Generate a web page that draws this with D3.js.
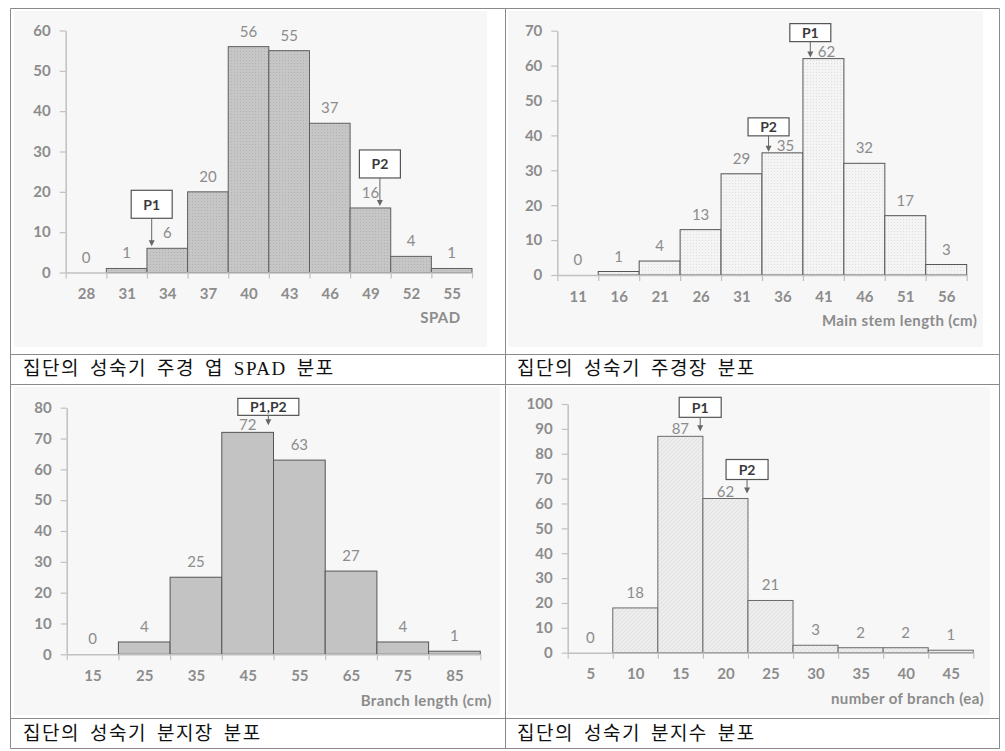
<!DOCTYPE html>
<html><head><meta charset="utf-8">
<script src="https://cdn.jsdelivr.net/npm/d3@7"></script>
<style>body{margin:0;background:#fff}svg{display:block}</style>
</head><body><svg id="c" width="1005" height="751"></svg>
<script>
// ---- data ----
const spadCats   = [28,31,34,37,40,43,46,49,52,55];
const spadCounts = [0,1,6,20,56,55,37,16,4,1];
const spadMarkLabels = ["P1","P2"];
const spadMarkX      = [32.85,49.7];
const spadMarkY      = [6,16];

const stemCats   = [11,16,21,26,31,36,41,46,51,56];
const stemCounts = [0,1,4,13,29,35,62,32,17,3];
const stemMarkLabels = ["P1","P2"];
const stemMarkX      = [39.4,34.3];
const stemMarkY      = [62,35];

const branchLenCats   = [15,25,35,45,55,65,75,85];
const branchLenCounts = [0,4,25,72,63,27,4,1];
const branchLenMarkLabels = ["P1,P2"];
const branchLenMarkX      = [49];
const branchLenMarkY      = [72];

const branchNumCats   = [5,10,15,20,25,30,35,40,45];
const branchNumCounts = [0,18,87,62,21,3,2,2,1];
const branchNumMarkLabels = ["P1","P2"];
const branchNumMarkX      = [17.2,22.4];
const branchNumMarkY      = [87,62];

const axisTitles = ["SPAD","Main stem length (cm)","Branch length (cm)","number of branch (ea)"];
const captions = ["집단의 성숙기 주경 엽 SPAD 분포","집단의 성숙기 주경장 분포","집단의 성숙기 분지장 분포","집단의 성숙기 분지수 분포"];

// ---- drawing ----
const svg = d3.select("#c");
const defs = svg.append("defs");
(function(){
  const p1 = defs.append("pattern").attr("id","pat1").attr("width",3).attr("height",3).attr("patternUnits","userSpaceOnUse");
  p1.append("rect").attr("width",3).attr("height",3).attr("fill","#c6c6c6");
  p1.append("rect").attr("width",1).attr("height",1).attr("fill","#b2b2b2");
  const p2 = defs.append("pattern").attr("id","pat2").attr("width",3).attr("height",3).attr("patternUnits","userSpaceOnUse");
  p2.append("rect").attr("width",3).attr("height",3).attr("fill","#f4f4f4");
  p2.append("rect").attr("width",1).attr("height",1).attr("fill","#dedede");
  const p4 = defs.append("pattern").attr("id","pat4").attr("width",4).attr("height",4).attr("patternUnits","userSpaceOnUse");
  p4.append("rect").attr("width",4).attr("height",4).attr("fill","#ededed");
  p4.append("path").attr("d","M0,4L4,0").attr("stroke","#e0e0e0").attr("stroke-width",1);
})();

const bgs = [[14,11,473,336],[508,11,475,336],[14,387,486,328],[508,387,482,328]];
svg.selectAll("rect.bg").data(bgs).join("rect").attr("class","bg")
  .attr("x",d=>d[0]).attr("y",d=>d[1]).attr("width",d=>d[2]).attr("height",d=>d[3]).attr("fill","#f7f7f7");

const gridColor="#8a8a8a";
const hLines=[8.5,354.5,384.5,718.5,748.5];
svg.selectAll("line.h").data(hLines).join("line").attr("class","h")
  .attr("x1",10.5).attr("x2",999.5).attr("y1",d=>d).attr("y2",d=>d).attr("stroke",gridColor);
const vLines=[10.5,505.5,999.5];
svg.selectAll("line.v").data(vLines).join("line").attr("class","v")
  .attr("y1",8.5).attr("y2",748.5).attr("x1",d=>d).attr("x2",d=>d).attr("stroke",gridColor);

const capPos=[[23,368],[517,368],[23,733],[517,733]];
const capText = svg.selectAll("text.cap").data(captions).join("text").attr("class","cap")
  .attr("x",(d,i)=>capPos[i][0]).attr("y",(d,i)=>capPos[i][1])
  .attr("dominant-baseline","central")
  .attr("font-family","'Liberation Serif','Noto Sans CJK KR'")
  .attr("font-size",19).attr("letter-spacing",1.5).attr("fill","#111");
capText.selectAll("tspan").data(d=>d.split(" ")).join("tspan")
  .attr("dx",(d,i)=>i?10:0).text(d=>d);

const tickColor="#8c8c8c", axisColor="#c0c0c0";
function drawPanel(c){
  const step = c.cats[1]-c.cats[0];
  const x = d3.scaleLinear().domain([c.cats[0]-step/2, c.cats[c.cats.length-1]+step/2]).range(c.xr);
  const y = d3.scaleLinear().domain([0,c.ymax]).range([c.y0,c.ytop]);
  const g = svg.append("g");
  const ya = g.append("g").attr("transform",`translate(${c.xr[0]},0)`)
    .call(d3.axisLeft(y).tickValues(d3.range(0,c.ymax+1,10)).tickSize(6).tickSizeOuter(0).tickPadding(9));
  ya.select(".domain").attr("stroke",axisColor).attr("stroke-width",1.5);
  ya.selectAll(".tick line").attr("stroke",axisColor).attr("stroke-width",1.2);
  ya.selectAll(".tick text").attr("fill",tickColor).attr("font-family","Lato").attr("font-weight","bold").attr("font-size",15);
  g.selectAll("rect.bar").data(c.counts).join("rect").attr("class","bar")
    .attr("x",(d,i)=>x(c.cats[i]-step/2)).attr("width",(d,i)=>x(c.cats[i]+step/2)-x(c.cats[i]-step/2))
    .attr("y",d=>y(d)).attr("height",d=>y(0)-y(d))
    .attr("fill",c.fill).attr("stroke",c.stroke).attr("stroke-width",1)
    .attr("display",d=>d>0?null:"none");
  const bounds = c.cats.map(v=>v-step/2).concat([c.cats[c.cats.length-1]+step/2]);
  const xa = g.append("g").attr("transform",`translate(0,${c.y0})`)
    .call(d3.axisBottom(x).tickValues(bounds).tickSize(6).tickSizeOuter(0).tickFormat(""));
  xa.select(".domain").attr("stroke",axisColor).attr("stroke-width",1.5);
  xa.selectAll(".tick line").attr("stroke",axisColor).attr("stroke-width",1.2);
  const xl = g.append("g").attr("transform",`translate(0,${c.y0})`)
    .call(d3.axisBottom(x).tickValues(c.cats).tickSize(0).tickPadding(16));
  xl.select(".domain").remove();
  xl.selectAll(".tick text").attr("fill",tickColor).attr("font-family","Lato").attr("font-weight","bold").attr("font-size",15);
  g.append("text").attr("x",c.title[0]).attr("y",c.title[1]).attr("text-anchor","end")
    .attr("dominant-baseline","central").attr("fill",tickColor).attr("font-family","Lato")
    .attr("font-weight","bold").attr("font-size",15).attr("letter-spacing",0.4).text(c.titleText);
  const marked = new Set(c.markY.map((v,i)=>Math.floor((c.markX[i]-(c.cats[0]-step/2))/step)));
  g.selectAll("text.val").data(c.counts).join("text").attr("class","val")
    .attr("x",(d,i)=>x(c.cats[i]) + (c.dodge && marked.has(i) ? c.dodgeDx : 0))
    .attr("y",(d,i)=>y(d) - (c.dodge && marked.has(i) ? c.dodgeOff : 16))
    .attr("text-anchor","middle").attr("dominant-baseline","central")
    .attr("fill",tickColor).attr("font-family","Lato").attr("font-size",15).text(d=>d);
  c.markLabels.forEach((lab,i)=>{
    const ax = x(c.markX[i]);
    const tip = y(c.markY[i]) - c.tipGap;
    const bb = tip - c.arrowLen;
    g.append("rect").attr("x",ax-c.boxW/2).attr("y",bb-c.boxH).attr("width",c.boxW).attr("height",c.boxH)
      .attr("fill","#fff").attr("stroke","#555").attr("stroke-width",1.2);
    g.append("text").attr("x",ax).attr("y",bb-c.boxH/2).attr("text-anchor","middle").attr("dominant-baseline","central")
      .attr("fill","#3a3a3a").attr("font-family","Lato").attr("font-weight","bold").attr("font-size",14).text(lab);
    g.append("line").attr("x1",ax).attr("x2",ax).attr("y1",bb).attr("y2",tip-2).attr("stroke","#666").attr("stroke-width",1);
    g.append("path").attr("d",`M${ax-3},${tip-6}L${ax+3},${tip-6}L${ax},${tip}Z`).attr("fill","#666");
  });
}

drawPanel({cats:spadCats,counts:spadCounts,markLabels:spadMarkLabels,markX:spadMarkX,markY:spadMarkY,
  xr:[65.7,472],y0:272.5,ytop:30.5,ymax:60,fill:"url(#pat1)",stroke:"#5f5f5f",
  title:[460.5,317],titleText:axisTitles[0],boxW:41,boxH:28,arrowLen:28,tipGap:2,dodge:false});
drawPanel({cats:stemCats,counts:stemCounts,markLabels:stemMarkLabels,markX:stemMarkX,markY:stemMarkY,
  xr:[557.3,966.7],y0:275,ytop:30.7,ymax:70,fill:"url(#pat2)",stroke:"#555",
  title:[977.3,320],titleText:axisTitles[1],boxW:41,boxH:18,arrowLen:16,tipGap:1,dodge:true,dodgeOff:8,dodgeDx:3});
drawPanel({cats:branchLenCats,counts:branchLenCounts,markLabels:branchLenMarkLabels,markX:branchLenMarkX,markY:branchLenMarkY,
  xr:[66.7,480.3],y0:654.3,ytop:407.7,ymax:80,fill:"#c3c3c3",stroke:"#555",
  title:[491.7,700],titleText:axisTitles[2],boxW:61,boxH:17,arrowLen:10,tipGap:7,dodge:true,dodgeOff:8,dodgeDx:0});
drawPanel({cats:branchNumCats,counts:branchNumCounts,markLabels:branchNumMarkLabels,markX:branchNumMarkX,markY:branchNumMarkY,
  xr:[567.7,973.3],y0:652.7,ytop:404,ymax:100,fill:"url(#pat4)",stroke:"#6a6a6a",
  title:[984,698.3],titleText:axisTitles[3],boxW:42,boxH:20,arrowLen:14,tipGap:5,dodge:true,dodgeOff:8,dodgeDx:0});
</script>
</body></html>
